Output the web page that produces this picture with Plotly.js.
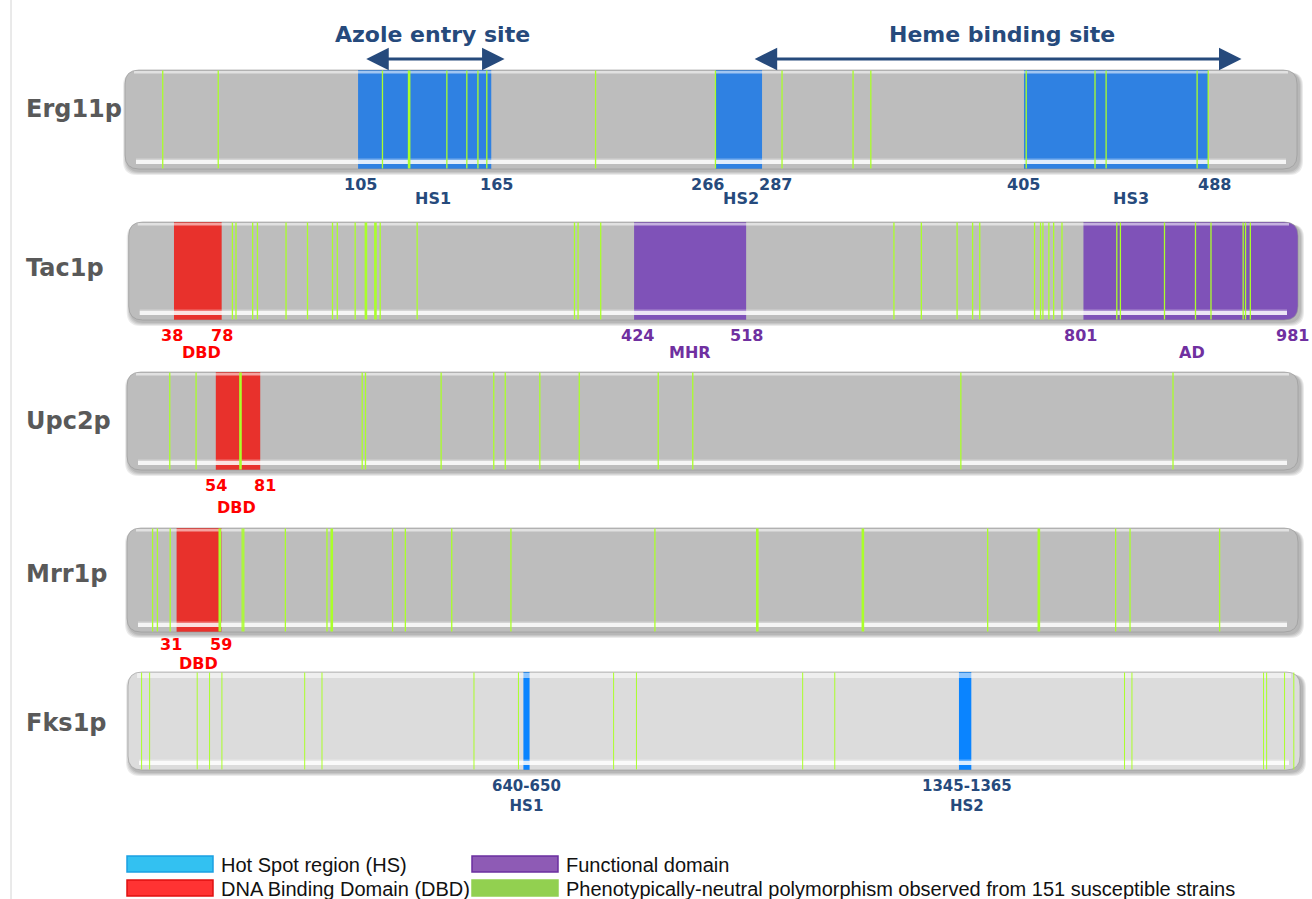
<!DOCTYPE html>
<html><head><meta charset="utf-8">
<script src="https://cdn.plot.ly/plotly-3.0.1.min.js"></script>
<style>html,body{margin:0;padding:0;background:#fff;overflow:hidden}#chart{width:1312px;height:899px}</style>
</head><body><div id="chart"></div>
<script>
// ---------------- DATA ----------------
const proteins = ['Erg11p', 'Tac1p', 'Upc2p', 'Mrr1p', 'Fks1p'];
const proteinLength = [528, 981, 712, 732, 1897];

const erg11HotSpotStart = [105, 266, 405];
const erg11HotSpotEnd = [165, 287, 488];
const erg11HotSpotNames = ['HS1', 'HS2', 'HS3'];
const azoleEntrySite = [108, 171];
const hemeBindingSite = [283, 503];

const tac1DBD = [38, 78];
const tac1DomainStart = [424, 801];
const tac1DomainEnd = [518, 981];
const tac1DomainNames = ['MHR', 'AD'];

const upc2DBD = [54, 81];
const mrr1DBD = [31, 59];

const fks1HotSpotStart = [640, 1345];
const fks1HotSpotEnd = [650, 1365];
const fks1HotSpotNames = ['HS1', 'HS2'];

// phenotypically-neutral polymorphisms (positions, aa)
const erg11Poly = [17, 42, 116, 128, 145, 154, 159, 163, 212, 266, 296, 328, 336, 406, 437, 442, 483, 488];
const tac1Poly = [87, 90, 104, 108, 132, 150, 171, 175, 190, 199, 207, 211, 242, 374, 377, 396,
                  642, 665, 695, 708, 714, 760, 765, 767, 772, 776, 783, 829, 832, 869, 895, 908, 935, 937, 941];
const upc2Poly = [26, 42, 69, 143, 145, 191, 223, 230, 251, 275, 323, 344, 507, 636];
const mrr1Poly = [16, 19, 27, 58, 72, 73, 99, 125, 128, 166, 174, 203, 240, 330, 394, 460, 538, 570, 618, 627, 683];
const fks1Poly = [22, 35, 112, 132, 152, 286, 314, 560, 632, 786, 823, 1092, 1144, 1613, 1625, 1838, 1843, 1872, 1887];

const legendLabels = ['Hot Spot region (HS)', 'DNA Binding Domain (DBD)', 'Functional domain',
  'Phenotypically-neutral polymorphism observed from 151 susceptible strains'];

// ---------------- LAYOUT / STYLE ----------------
const W = 1312, H = 899;
const rowTop = [70, 222, 372, 528, 672];
const rowBottom = [169, 320, 470, 632, 770];
const px0 = [125, 128.7, 127, 127, 128];
const pxEnd = [1297, 1298, 1298, 1298, 1300];
const axisIds = ['x', 'x2', 'x3', 'x4', 'x5'];
const slope = proteins.map((p, i) => (pxEnd[i] - px0[i]) / proteinLength[i]);
const polys = [erg11Poly, tac1Poly, upc2Poly, mrr1Poly, fks1Poly];
const thickPoly = [[128], [199, 207], [69], [58, 128, 394, 460, 570], []];
const barFill = ['#bdbdbd', '#bdbdbd', '#bdbdbd', '#bdbdbd', '#dcdcdc'];
const C_HS = '#2f81e2', C_FKS = '#0a84ff', C_RED = '#e8312c', C_PUR = '#7f52b8';
const T_BLUE = '#264a7c', T_RED = '#ff0000', T_PUR = '#7030a0';
const GREEN = '#aaff2a';
const R = 14;

function rr(x0, x1, y0, y1, rx, ry, L, Rr) {
  let p = L ? `M ${x0 + rx},${y0}` : `M ${x0},${y0}`;
  if (Rr) p += ` L ${x1 - rx},${y0} Q ${x1},${y0} ${x1},${y0 + ry} L ${x1},${y1 - ry} Q ${x1},${y1} ${x1 - rx},${y1}`;
  else p += ` L ${x1},${y0} L ${x1},${y1}`;
  if (L) p += ` L ${x0 + rx},${y1} Q ${x0},${y1} ${x0},${y1 - ry} L ${x0},${y0 + ry} Q ${x0},${y0} ${x0 + rx},${y0}`;
  else p += ` L ${x0},${y1}`;
  return p + ' Z';
}

const regions = [[], [], [], [], []];
erg11HotSpotStart.forEach((s, k) => regions[0].push([s, erg11HotSpotEnd[k], C_HS]));
regions[1].push([tac1DBD[0], tac1DBD[1], C_RED]);
tac1DomainStart.forEach((s, k) => regions[1].push([s, tac1DomainEnd[k], C_PUR]));
regions[2].push([upc2DBD[0], upc2DBD[1], C_RED]);
regions[3].push([mrr1DBD[0], mrr1DBD[1], C_RED]);
fks1HotSpotStart.forEach((s, k) => regions[4].push([s, fks1HotSpotEnd[k], C_FKS]));

const shapes = [];
shapes.push({type: 'line', xref: 'paper', yref: 'y', x0: 11 / W, x1: 11 / W, y0: 0, y1: H,
  line: {color: '#d4d4d4', width: 1}, layer: 'below'});

const traces = [];
proteins.forEach((p, i) => {
  const xr = axisIds[i], s = slope[i], L = proteinLength[i];
  const y0 = rowTop[i], y1 = rowBottom[i];
  const rx = R / s;
  // shadow
  for (let k = 1; k <= 4; k++) {
    shapes.push({type: 'path', xref: xr, yref: 'y', layer: 'below',
      path: rr(-(k - 2) / s, L + (2 + k) / s, y0 + 2, y1 + 2 + k, rx, R, true, true),
      fillcolor: 'rgba(0,0,0,0.08)', line: {width: 0}});
  }
  // bar
  shapes.push({type: 'path', xref: xr, yref: 'y', layer: 'below',
    path: rr(0, L, y0, y1, rx, R, true, true), fillcolor: barFill[i], line: {width: 0}});
  // regions
  regions[i].forEach(r => {
    shapes.push({type: 'path', xref: xr, yref: 'y', layer: 'below',
      path: rr(r[0], r[1], y0, y1, rx, R, r[0] <= 0, r[1] >= L), fillcolor: r[2], line: {width: 0}});
  });
  // gloss
  const topH = i === 4 ? 5 : 2.5;
  shapes.push({type: 'rect', xref: xr, yref: 'y', layer: 'below',
    x0: 9 / s, x1: L - 9 / s, y0: y0 + 1, y1: y0 + 1 + topH,
    fillcolor: 'rgba(255,255,255,0.55)', line: {width: 0}});
  shapes.push({type: 'rect', xref: xr, yref: 'y', layer: 'below',
    x0: 11 / s, x1: L - 11 / s, y0: y1 - 9, y1: y1 - 5,
    fillcolor: 'rgba(255,255,255,0.85)', line: {width: 0}});
  shapes.push({type: 'rect', xref: xr, yref: 'y', layer: 'below',
    x0: 11 / s, x1: L - 11 / s, y0: y1 - 10.5, y1: y1 - 9,
    fillcolor: 'rgba(255,255,255,0.35)', line: {width: 0}});
  // outline
  shapes.push({type: 'path', xref: xr, yref: 'y', layer: 'below',
    path: rr(0, L, y0, y1, rx, R, true, true), fillcolor: 'rgba(0,0,0,0)',
    line: {color: 'rgba(150,150,150,0.6)', width: 1}});

  // polymorphism lines
  const thin = polys[i].filter(v => !thickPoly[i].includes(v));
  const thick = polys[i].filter(v => thickPoly[i].includes(v));
  [[thin, i === 4 ? 1 : 1.3], [thick, 2.6]].forEach(([arr, w]) => {
    const xs = [], ys = [];
    arr.forEach(v => { xs.push(v, v, null); ys.push(y0 + 0.5, y1 - 0.5, null); });
    traces.push({type: 'scatter', mode: 'lines', x: xs, y: ys, xaxis: xr, yaxis: 'y',
      line: {color: GREEN, width: w}, hoverinfo: 'skip', showlegend: false});
  });
});

// ---------------- TEXT ----------------
const ann = [];
const FB = 'DejaVu Sans';
function lab(xr, x, y, text, color, size, shift) {
  ann.push({xref: xr, yref: 'y', x: x, y: y, text: '<b>' + text + '</b>', showarrow: false,
    xanchor: 'center', yanchor: 'middle', xshift: shift || 0,
    font: {family: FB, size: size || 16, color: color}});
}
const rowLabelY = [109, 268, 421, 574, 723];
proteins.forEach((p, i) => {
  ann.push({xref: 'paper', yref: 'y', x: 24 / W, y: rowLabelY[i], text: '<b>' + p + '</b>',
    showarrow: false, xanchor: 'left', yanchor: 'middle',
    font: {family: FB, size: 24, color: '#595959'}});
});
// Erg11
const ergS = [2, -8, 0], ergE = [5, 13, 6], ergN = [8, 2, 15];
erg11HotSpotStart.forEach((v, k) => {
  lab('x', v, 184, String(v), T_BLUE, 16, ergS[k]);
  lab('x', erg11HotSpotEnd[k], 184, String(erg11HotSpotEnd[k]), T_BLUE, 16, ergE[k]);
  lab('x', (v + erg11HotSpotEnd[k]) / 2, 198, erg11HotSpotNames[k], T_BLUE, 16, ergN[k]);
});
lab('x', (azoleEntrySite[0] + azoleEntrySite[1]) / 2, 34, 'Azole entry site', T_BLUE, 22, -2);
lab('x', (hemeBindingSite[0] + hemeBindingSite[1]) / 2, 34, 'Heme binding site', T_BLUE, 22, 5);
[azoleEntrySite, hemeBindingSite].forEach(site => {
  ann.push({xref: 'x', yref: 'y', axref: 'x', ayref: 'y', x: site[1], y: 59, ax: site[0], ay: 59,
    text: '', showarrow: true, arrowside: 'end+start', arrowhead: 2, arrowsize: 1.5,
    arrowwidth: 3, arrowcolor: T_BLUE, standoff: 0, startstandoff: 0});
});
// Tac1
lab('x2', tac1DBD[0], 335, String(tac1DBD[0]), T_RED, 16, -2);
lab('x2', tac1DBD[1], 335, String(tac1DBD[1]), T_RED, 16, 0);
lab('x2', (tac1DBD[0] + tac1DBD[1]) / 2, 352, 'DBD', T_RED, 16, 4);
const tdS = [3, -3], tdE = [0, -6], tdN = [0, 1];
tac1DomainStart.forEach((v, k) => {
  lab('x2', v, 335, String(v), T_PUR, 16, tdS[k]);
  lab('x2', tac1DomainEnd[k], 335, String(tac1DomainEnd[k]), T_PUR, 16, tdE[k]);
  lab('x2', (v + tac1DomainEnd[k]) / 2, 352, tac1DomainNames[k], T_PUR, 16, tdN[k]);
});
// Upc2
lab('x3', upc2DBD[0], 485, String(upc2DBD[0]), T_RED, 16, 0);
lab('x3', upc2DBD[1], 485, String(upc2DBD[1]), T_RED, 16, 5);
lab('x3', (upc2DBD[0] + upc2DBD[1]) / 2, 507, 'DBD', T_RED, 16, -2);
// Mrr1
lab('x4', mrr1DBD[0], 644, String(mrr1DBD[0]), T_RED, 16, -6);
lab('x4', mrr1DBD[1], 644, String(mrr1DBD[1]), T_RED, 16, 0);
lab('x4', (mrr1DBD[0] + mrr1DBD[1]) / 2, 663, 'DBD', T_RED, 16, 0);
// Fks1 (two-line label: range over name)
const fkR = [0, 2];
fks1HotSpotStart.forEach((v, k) => {
  const c = (v + fks1HotSpotEnd[k]) / 2;
  ann.push({xref: 'x5', yref: 'y', x: c, y: 796, xshift: fkR[k], showarrow: false,
    xanchor: 'center', yanchor: 'middle', align: 'center',
    text: '<b>' + v + '-' + fks1HotSpotEnd[k] + '<br>' + fks1HotSpotNames[k] + '</b>',
    font: {family: FB, size: 15, color: T_BLUE}});
});

// ---------------- LEGEND ----------------
const legFill = ['#33c1f1', '#ff3333', '#8e5bb5', '#92d050'];
const legLine = ['#1ba0e2', '#e01010', '#6b2fa0', '#92d050'];
const legX = [127, 127, 472, 472];
const legY = [856, 880, 856, 880];
legendLabels.forEach((t, k) => {
  shapes.push({type: 'rect', xref: 'paper', yref: 'y', layer: 'above',
    x0: legX[k] / W, x1: (legX[k] + 86) / W, y0: legY[k], y1: legY[k] + 16,
    fillcolor: legFill[k], line: {color: legLine[k], width: 1.5}});
  ann.push({xref: 'paper', yref: 'y', x: (legX[k] + 92) / W, y: legY[k] + 8.5, text: t,
    showarrow: false, xanchor: 'left', yanchor: 'middle',
    font: {family: 'Liberation Sans', size: 20, color: '#111'}});
});

const layout = {
  width: W, height: H, margin: {l: 0, r: 0, t: 0, b: 0},
  paper_bgcolor: '#fff', plot_bgcolor: '#fff', showlegend: false, hovermode: false,
  yaxis: {range: [H, 0], autorange: false, visible: false, fixedrange: true, domain: [0, 1]},
  shapes: shapes, annotations: ann
};
axisIds.forEach((id, i) => {
  const key = id === 'x' ? 'xaxis' : 'xaxis' + id.slice(1);
  const ax = {range: [-px0[i] / slope[i], (W - px0[i]) / slope[i]], autorange: false,
    visible: false, fixedrange: true, domain: [0, 1], anchor: 'y'};
  if (i > 0) ax.overlaying = 'x';
  layout[key] = ax;
});
Plotly.newPlot('chart', traces, layout, {staticPlot: true, displayModeBar: false});
</script></body></html>
